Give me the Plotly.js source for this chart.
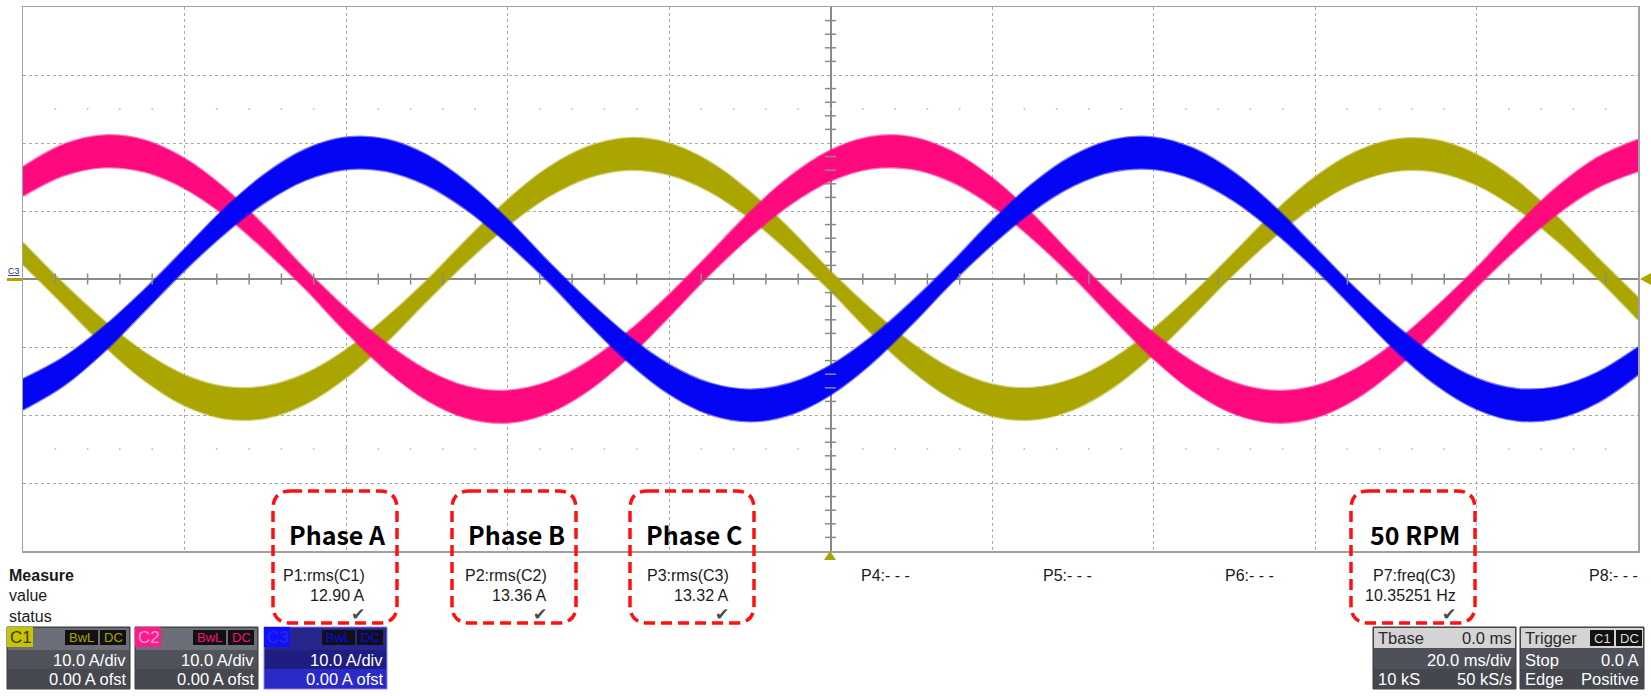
<!DOCTYPE html>
<html>
<head>
<meta charset="utf-8">
<script src="https://cdn.plot.ly/plotly-3.0.1.min.js"></script>
<style>
  html, body { margin: 0; padding: 0; background: #fff; }
  #scope { width: 1651px; height: 696px; }
</style>
</head>
<body>
<div id="scope"></div>
<script>
// sample times in ms (20 ms/div, trigger at centre)
var timeMs = [-100, -95, -90, -85, -80, -75, -70, -65, -60, -55, -50, -45, -40, -35, -30, -25, -20, -15, -10, -5,
  0, 5, 10, 15, 20, 25, 30, 35, 40, 45, 50, 55, 60, 65, 70, 75, 80, 85, 90, 95, 100];

// phase currents, in A (10 A/div)
var c1Amps = [3.74, -2.21, -7.93, -12.82, -16.36, -18.19, -18.12, -16.14, -12.47, -7.49, -1.73, 4.21, 9.71, 14.20, 17.19, 18.39, 17.65, 15.07, 10.90, 5.59,
  -0.30, -6.17, -11.38, -15.40, -17.81, -18.35, -16.97, -13.81, -9.20, -3.62, 2.33, 8.04, 12.91, 16.42, 18.21, 18.09, 16.08, 12.38, 7.38, 1.61, -4.34];
var c2Amps = [14.35, 17.48, 18.77, 18.10, 15.53, 11.34, 5.95, -0.06, -6.07, -11.43, -15.60, -18.14, -18.77, -17.43, -14.27, -9.61, -3.94, 2.14, 7.99, 13.01,
  16.67, 18.57, 18.53, 16.55, 12.83, 7.76, 1.89, -4.19, -9.82, -14.43, -17.53, -18.78, -18.07, -15.46, -11.23, -5.82, 0.19, 6.19, 11.54, 15.67, 18.17];
var c3Amps = [-16.96, -13.63, -8.88, -3.19, 2.83, 8.56, 13.38, 16.81, 18.47, 18.20, 16.02, 12.15, 7.02, 1.15, -4.85, -10.33, -14.73, -17.59, -18.60, -17.66,
  -14.87, -10.53, -5.07, 0.91, 6.80, 11.98, 15.90, 18.15, 18.50, 16.91, 13.55, 8.76, 3.06, -2.96, -8.68, -13.48, -16.87, -18.49, -18.17, -15.95, -12.05];

// measurement strip
var measNames = ['P1:rms(C1)', 'P2:rms(C2)', 'P3:rms(C3)', 'P4:- - -', 'P5:- - -', 'P6:- - -', 'P7:freq(C3)', 'P8:- - -'];
var measValues = ['12.90 A', '13.36 A', '13.32 A', '', '', '', '10.35251 Hz', ''];
var calloutLabels = ['Phase A', 'Phase B', 'Phase C', '50 RPM'];

var chanNames = ['C1', 'C2', 'C3'];
var chanScale = ['10.0 A/div', '10.0 A/div', '10.0 A/div'];
var chanOffset = ['0.00 A ofst', '0.00 A ofst', '0.00 A ofst'];

// ---- geometry helpers (page pixels -> paper) ----
var L = 23, R = 1638, T = 7, B = 551;
var W = R - L, H = B - T;
function px(x) { return (x - L) / W; }
function py(y) { return (B - y) / H; }

var COLORS = ['#aaa500', '#ff0a7e', '#0505f5'];
var EDGES = ['rgba(170,165,0,0.55)', 'rgba(255,10,126,0.55)', 'rgba(5,5,245,0.55)'];
var BAND_BASE = 1.4, BAND_GAIN = 0.05;   // trace thickness (noise band), A

var data = [];
[c1Amps, c2Amps, c3Amps].forEach(function (v, i) {
  var up = [], lo = [];
  v.forEach(function (a) {
    var h = BAND_BASE + BAND_GAIN * Math.abs(a);
    up.push(a + h);
    lo.push(a - h);
  });
  var edge = { color: EDGES[i], width: 2.5, shape: 'spline', smoothing: 1 };
  data.push({ x: timeMs, y: lo, type: 'scatter', mode: 'lines', line: edge, hoverinfo: 'skip' });
  data.push({ x: timeMs, y: up, type: 'scatter', mode: 'lines', line: edge, hoverinfo: 'skip',
    fill: 'tonexty', fillcolor: COLORS[i] });
});

// small division ticks on the centre cross and the dotted rows
var tx = [], ty = [], dx = [];
for (var t = -96; t <= 96; t += 4) { if (t % 20 !== 0) tx.push(t); dx.push(t); }
for (var a = -38; a <= 38; a += 2) { if (a % 10 !== 0) ty.push(a); }
data.push({ x: tx, y: tx.map(function () { return 0; }), type: 'scatter', mode: 'markers',
  marker: { symbol: 'line-ns', size: 8, line: { color: '#8a8a8a', width: 1.5 } }, hoverinfo: 'skip' });
data.push({ x: ty.map(function () { return 0; }), y: ty, type: 'scatter', mode: 'markers',
  marker: { symbol: 'line-ew', size: 8, line: { color: '#8a8a8a', width: 1.5 } }, hoverinfo: 'skip' });
data.push({ x: dx.concat(dx), y: dx.map(function () { return 25; }).concat(dx.map(function () { return -25; })),
  type: 'scatter', mode: 'markers', marker: { symbol: 'circle', size: 2, color: '#c4c4c4' }, hoverinfo: 'skip' });

// ---- annotations and shapes ----
var FONT = 'Liberation Sans, Arial, sans-serif';
var annotations = [];
var shapes = [];

function ann(text, x, y, size, color, xanchor, family) {
  annotations.push({
    text: text, x: px(x), y: py(y), xref: 'paper', yref: 'paper', showarrow: false,
    xanchor: xanchor || 'left', yanchor: 'middle',
    font: { family: family || FONT, size: size, color: color || '#1a1a1a' }
  });
}
function rect(x0, y0, x1, y1, fill, line) {
  shapes.push({ type: 'rect', xref: 'paper', yref: 'paper', x0: px(x0), x1: px(x1), y0: py(y1), y1: py(y0),
    fillcolor: fill, line: line || { width: 0 }, layer: 'above' });
}
function roundBox(x0, y0, x1, y1, r) {
  var p = function (x, y) { return px(x) + ',' + py(y); };
  var d = 'M' + p(x0 + r, y0) + ' L' + p(x1 - r, y0) + ' Q' + p(x1, y0) + ' ' + p(x1, y0 + r) +
    ' L' + p(x1, y1 - r) + ' Q' + p(x1, y1) + ' ' + p(x1 - r, y1) +
    ' L' + p(x0 + r, y1) + ' Q' + p(x0, y1) + ' ' + p(x0, y1 - r) +
    ' L' + p(x0, y0 + r) + ' Q' + p(x0, y0) + ' ' + p(x0 + r, y0) + ' Z';
  shapes.push({ type: 'path', path: d, xref: 'paper', yref: 'paper', layer: 'above',
    line: { color: '#ff1010', width: 3.5, dash: '11px,6px' } });
}
function tri(pts, color) {
  var d = 'M' + pts.map(function (q) { return px(q[0]) + ',' + py(q[1]); }).join(' L') + ' Z';
  shapes.push({ type: 'path', path: d, xref: 'paper', yref: 'paper', layer: 'above',
    fillcolor: color, line: { width: 0 } });
}

// measure rows
ann('<b>Measure</b>', 7, 575, 16);
ann('value', 7, 595, 16);
ann('status', 7, 616, 16);
measNames.forEach(function (n, k) {
  var xr = 367 + 181.8 * k;
  ann(n, xr, 575, 16, '#1a1a1a', 'right');
  if (measValues[k]) {
    ann(measValues[k], xr, 595, 16, '#1a1a1a', 'right');
    ann('✔', xr - 9, 614, 17, '#4a4a4a', 'center', 'DejaVu Sans');
  }
});

// red dashed callouts
var boxX = [273, 452, 630, 1351];
calloutLabels.forEach(function (s, k) {
  roundBox(boxX[k], 491, boxX[k] + 124, 623, 18);
  ann('<b>' + s + '</b>', boxX[k] + 64, 534, 25, '#000', 'center', 'Noto Sans CJK KR, Noto Sans, sans-serif');
});

// channel info boxes
var chanX = [7, 135, 264];
var labelBg = ['#c8c400', '#ff1a8c', '#1010ff'];
var labelFg = ['#3a3800', '#ff9ccc', '#2a2ae0'];
chanNames.forEach(function (c, k) {
  var x0 = chanX[k];
  var sel = k === 2;
  rect(x0, 627, x0 + 123, 689, sel ? '#1e1e80' : '#50535b', { color: sel ? '#8c8cff' : '#3a3a3a', width: 1 });
  rect(x0 + 1, 628, x0 + 122, 650, sel ? '#26268e' : '#6c6f77');
  rect(x0 + 1, 669, x0 + 122, 688, sel ? '#2a2ac8' : '#45484f');
  rect(x0, 627, x0 + 26, 647, labelBg[k]);
  ann(c, x0 + 1, 637, 17, labelFg[k]);
  rect(x0 + 58, 630, x0 + 91, 645, '#111');
  rect(x0 + 93, 630, x0 + 119, 645, '#111');
  ann('BwL', x0 + 74.5, 637.5, 13, COLORS[k], 'center');
  ann('DC', x0 + 106, 637.5, 13, COLORS[k], 'center');
  ann(chanScale[k], x0 + 121, 660, 16.5, '#fff', 'right');
  ann(chanOffset[k], x0 + 121, 679, 16.5, '#fff', 'right');
});

// timebase / trigger boxes
rect(1373, 627, 1516, 689, '#4e5159', { color: '#3a3a3a', width: 1 });
rect(1374, 628, 1515, 648, '#d4d4d4');
rect(1374, 669, 1515, 688, '#44474e');
ann('Tbase', 1376, 638, 16.5, '#2a2a2a');
ann('0.0 ms', 1514, 638, 16.5, '#2a2a2a', 'right');
ann('20.0 ms/div', 1514, 660, 16.5, '#fff', 'right');
ann('10 kS', 1376, 679, 16.5, '#fff');
ann('50 kS/s', 1514, 679, 16.5, '#fff', 'right');

rect(1520, 627, 1644, 689, '#4e5159', { color: '#3a3a3a', width: 1 });
rect(1521, 628, 1643, 648, '#d4d4d4');
rect(1521, 669, 1643, 688, '#44474e');
ann('Trigger', 1523, 638, 16.5, '#2a2a2a');
rect(1590, 630, 1614, 646, '#111');
rect(1616, 630, 1642, 646, '#111');
ann('C1', 1602, 638, 13, '#ddd', 'center');
ann('DC', 1629, 638, 13, '#ddd', 'center');
ann('Stop', 1523, 660, 16.5, '#fff');
ann('0.0 A', 1641, 660, 16.5, '#fff', 'right');
ann('Edge', 1523, 679, 16.5, '#fff');
ann('Positive', 1641, 679, 16.5, '#fff', 'right');

// markers: channel ground, trigger level, trigger position
ann('<u>C3</u>', 6, 271, 9, '#2a2a90');
rect(7, 278, 22, 281, '#aaa500');
tri([[1651, 273], [1651, 285], [1640, 279]], '#aaa500');
tri([[824, 560], [836, 560], [830, 551]], '#aaa500');

var axisStyle = {
  showticklabels: false, ticks: '', showgrid: true, gridcolor: '#a9a9a9', gridwidth: 1, griddash: 'dot',
  zeroline: true, zerolinecolor: '#8a8a8a', zerolinewidth: 2,
  showline: true, mirror: true, linecolor: '#a0a0a0', linewidth: 1.5, fixedrange: true
};

var layout = {
  width: 1651, height: 696,
  margin: { l: L, r: 1651 - R, t: T, b: 696 - B },
  paper_bgcolor: '#fff', plot_bgcolor: '#fff',
  showlegend: false, hovermode: false,
  xaxis: Object.assign({}, axisStyle, { range: [-100, 100], dtick: 20, tick0: 0 }),
  yaxis: Object.assign({}, axisStyle, { range: [-40, 40], dtick: 10, tick0: 0 }),
  annotations: annotations,
  shapes: shapes
};

Plotly.newPlot('scope', data, layout, { displayModeBar: false, staticPlot: true });
</script>
</body>
</html>
